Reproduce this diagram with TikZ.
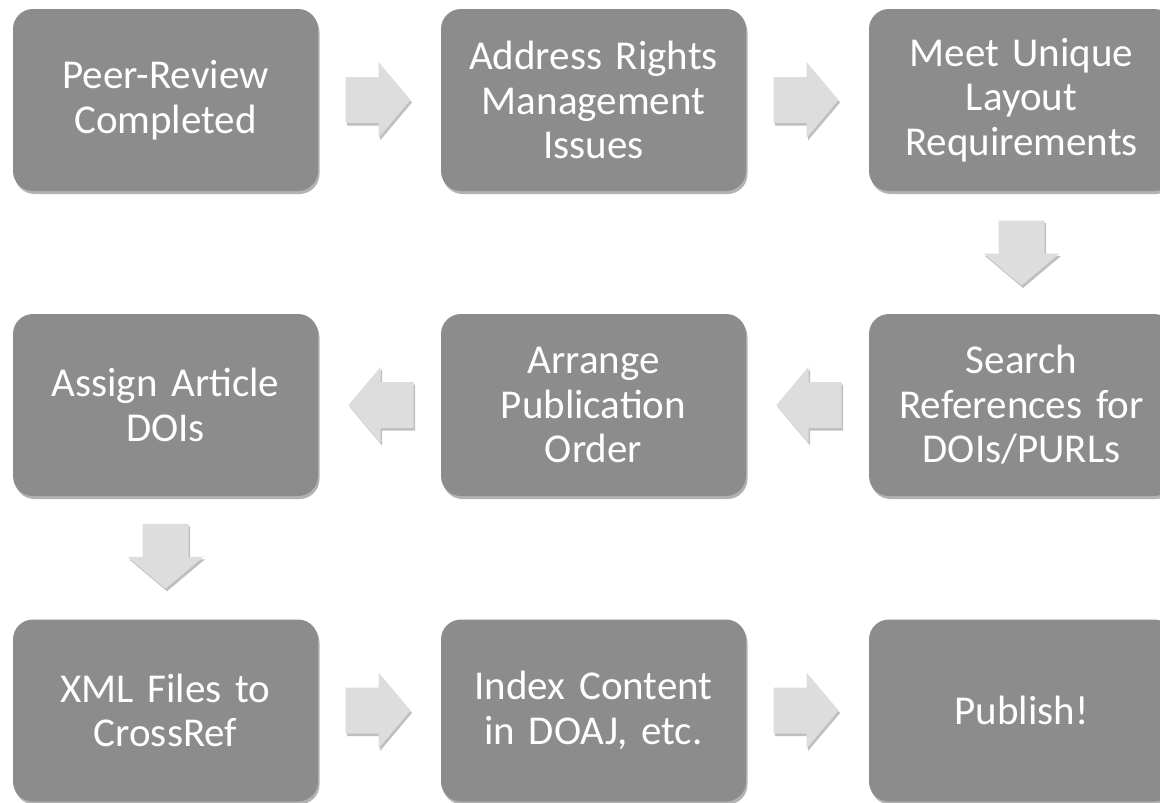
\documentclass[tikz,border=0pt]{standalone}
\usepackage{fontspec}
\setmainfont{Carlito}[WordSpace=0.75]
\usetikzlibrary{shadows,calc}
\definecolor{boxgray}{RGB}{140,140,140}
\definecolor{arrowgray}{RGB}{221,221,221}
\newcommand\blockarrow[2]{%
  \path[barrow, shift={(#1)}, rotate=#2] (-32,-23) -- (1,-23) -- (1,-38) -- (33,0) -- (1,38) -- (1,23) -- (-32,23) -- cycle;}
\begin{document}
\begin{tikzpicture}[x=1pt,y=-1pt,
  stepnode/.style={fill=boxgray, rounded corners=20pt, minimum width=305pt, minimum height=182pt,
    text=white, font=\fontsize{41}{44.5}\selectfont, align=center, inner sep=0pt, text width=300pt,
    drop shadow={shadow xshift=1.5pt, shadow yshift=-3pt, opacity=0.3, fill=black}},
  barrow/.style={fill=arrowgray, draw=none,
    drop shadow={shadow xshift=1.5pt, shadow yshift=-2.5pt, opacity=0.25, fill=black}}]
\clip (0,0) rectangle (1160,803);
\fill[white] (0,0) rectangle (1160,803);
\node[stepnode] (n1) at (165.5,100) {Peer-Review\\Completed};
\node[stepnode] (n2) at (593.5,100) {Address Rights\\Management\\Issues};
\node[stepnode] (n3) at (1021.5,100) {Meet Unique\\Layout\\Requirements};
\node[stepnode] (n4) at (1021.5,405) {Search\\References for\\DOIs/PURLs};
\node[stepnode] (n5) at (593.5,405) {Arrange\\Publication\\Order};
\node[stepnode] (n6) at (165.5,405) {Assign Article\\DOIs};
\node[stepnode] (n7) at (165.5,710.5) {XML Files to\\CrossRef};
\node[stepnode] (n8) at (593.5,710.5) {Index Content\\in DOAJ, etc.};
\node[stepnode] (n9) at (1021.5,710.5) {Publish!};
\coordinate (m12) at ($(n1.east)!0.5!(n2.west)+(-2,0)$);
\coordinate (m23) at ($(n2.east)!0.5!(n3.west)+(-2,0)$);
\coordinate (m34) at ($(n3.south)!0.5!(n4.north)$);
\coordinate (m45) at ($(n4.west)!0.5!(n5.east)+(2,0)$);
\coordinate (m56) at ($(n5.west)!0.5!(n6.east)+(2,0)$);
\coordinate (m67) at ($(n6.south)!0.5!(n7.north)+(0,-2)$);
\coordinate (m78) at ($(n7.east)!0.5!(n8.west)+(-2,0)$);
\coordinate (m89) at ($(n8.east)!0.5!(n9.west)+(-2,0)$);
\blockarrow{m12}{0}
\blockarrow{m23}{0}
\blockarrow{m34}{-90}
\blockarrow{m45}{180}
\blockarrow{m56}{180}
\blockarrow{m67}{-90}
\blockarrow{m78}{0}
\blockarrow{m89}{0}
\end{tikzpicture}
\end{document}
